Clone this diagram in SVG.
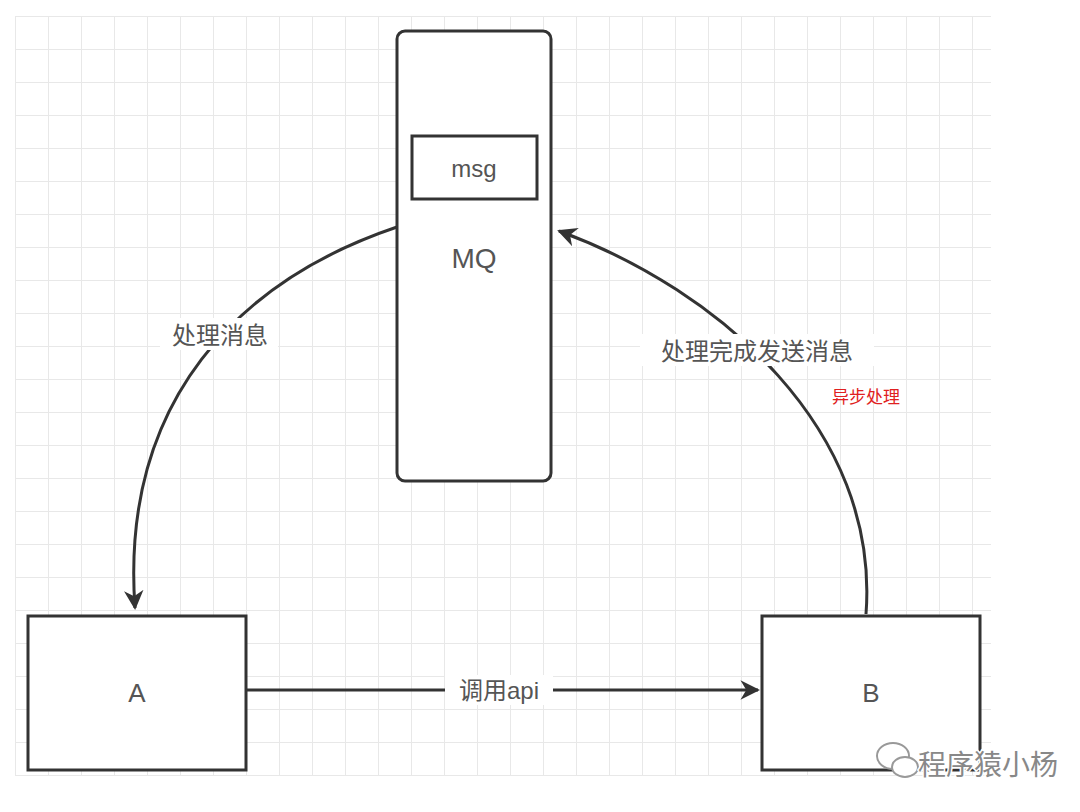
<svg xmlns="http://www.w3.org/2000/svg" width="1080" height="812" viewBox="0 0 1080 812">
<defs>
<pattern id="g" x="15" y="16" width="33" height="33" patternUnits="userSpaceOnUse"><path d="M0 0H33M0 0V33" fill="none" stroke="#e8e8e8" stroke-width="2"/></pattern>
<marker id="ah" viewBox="0 0 10 10" refX="9" refY="5" markerWidth="6.5" markerHeight="6.5" orient="auto"><path d="M0 0L10 5L0 10L3 5Z" fill="#333"/></marker>
<style>
.n{fill:#fff;stroke:#333;stroke-width:3}
.t{font-family:"Liberation Sans","Noto Sans CJK SC",sans-serif;fill:#555;text-anchor:middle}
.c{fill:none;stroke:#333;stroke-width:3}
</style>
</defs>
<rect width="1080" height="812" fill="#fff"/>
<rect x="15" y="16" width="976" height="760" fill="url(#g)"/>
<g id="connectors">
<path class="c" d="M397 227C240 280 120 400 135 608" marker-end="url(#ah)"/>
<path class="c" d="M866 614C880 430 720 290 559 231" marker-end="url(#ah)"/>
<path class="c" d="M246 690H758" marker-end="url(#ah)"/>
<rect x="445" y="675" width="108" height="30" fill="#fff"/>
<text class="t" x="499" y="699" font-size="24">调用api</text>
<rect x="160" y="318" width="118" height="32" fill="#fff"/>
<text class="t" x="220" y="344" font-size="24">处理消息</text>
<rect x="640" y="334" width="234" height="32" fill="#fff"/>
<text class="t" x="757" y="360" font-size="24">处理完成发送消息</text>
<text x="866" y="403" font-size="17" fill="#e02020" text-anchor="middle" font-family="Noto Sans CJK SC,sans-serif">异步处理</text>
</g>
<g id="mq"><rect class="n" x="397" y="31" width="154" height="450" rx="8"/>
<text class="t" x="474" y="268" font-size="28">MQ</text></g>
<g id="msg"><rect class="n" x="412" y="136" width="125" height="63"/>
<text class="t" x="474" y="177" font-size="24">msg</text></g>
<g id="A"><rect class="n" x="28" y="616" width="218" height="154"/>
<text class="t" x="137" y="702" font-size="26">A</text></g>
<g id="B"><rect class="n" x="762" y="616" width="218" height="154"/>
<text class="t" x="871" y="702" font-size="26">B</text></g>
<g id="watermark" fill="#fff" stroke="#999" stroke-width="2">
<ellipse cx="893" cy="756" rx="16" ry="13"/><ellipse cx="905" cy="767" rx="13" ry="10"/>
<text x="918" y="775" font-size="28" fill="#888" stroke="#fff" stroke-width="3" paint-order="stroke" font-family="Noto Sans CJK SC,sans-serif">程序猿小杨</text>
</g>
</svg>
